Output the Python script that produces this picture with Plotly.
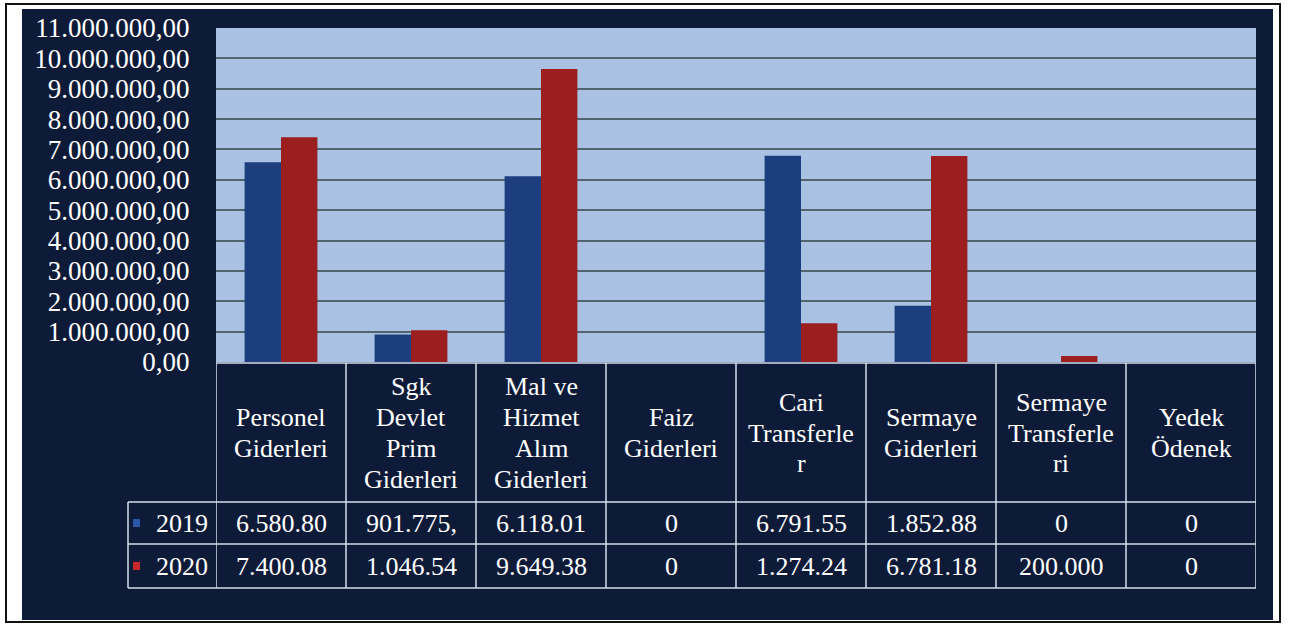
import plotly.graph_objects as go

# kategoriler (tablo başlığında satır satır)
header_lines = [
    ["Personel", "Giderleri"],
    ["Sgk", "Devlet", "Prim", "Giderleri"],
    ["Mal ve", "Hizmet", "Alım", "Giderleri"],
    ["Faiz", "Giderleri"],
    ["Cari", "Transferle", "r"],
    ["Sermaye", "Giderleri"],
    ["Sermaye", "Transferle", "ri"],
    ["Yedek", "Ödenek"],
]
categories = [" ".join(l) for l in header_lines]

years = ["2019", "2020"]
values_2019 = [6580800, 901775, 6118010, 0, 6791550, 1852880, 0, 0]
values_2020 = [7400080, 1046540, 9649380, 0, 1274240, 6781180, 200000, 0]

# tablodaki (kesik) yazılar
table_2019 = ["6.580.80", "901.775,", "6.118.01", "0", "6.791.55", "1.852.88", "0", "0"]
table_2020 = ["7.400.08", "1.046.54", "9.649.38", "0", "1.274.24", "6.781.18", "200.000", "0"]

tick_vals = [i * 1000000 for i in range(12)]
tick_text = ["0,00"] + ["{:,}".format(v).replace(",", ".") + ",00" for v in tick_vals[1:]]

W, H = 1298, 625
NAVY = "#0e1b38"
BLUE = "#1d3e7e"
RED = "#9c1e1e"
FONT = "Liberation Serif"
LINE = "#d6deea"


def px(x):
    return x / W


def py(y):
    return 1 - y / H


fig = go.Figure()
fig.add_trace(go.Bar(name="2019", x=categories, y=values_2019, marker=dict(color=BLUE, line=dict(width=0))))
fig.add_trace(go.Bar(name="2020", x=categories, y=values_2020, marker=dict(color=RED, line=dict(width=0))))

shapes = []
# beyaz kenarlar + siyah çerçeve
for x0, y0, x1, y1 in [(0, 0, W, 9), (0, 620, W, H), (0, 0, 22, H), (1273, 0, W, H)]:
    shapes.append(dict(type="rect", xref="paper", yref="paper", x0=px(x0), x1=px(x1), y0=py(y0), y1=py(y1),
                       fillcolor="white", line=dict(width=0), layer="below"))
shapes.append(dict(type="rect", xref="paper", yref="paper", x0=px(6), x1=px(1280), y0=py(4), y1=py(622),
                   line=dict(color="#111", width=2)))

# tablo çizgileri
for k in range(len(categories) + 1):
    shapes.append(dict(type="line", xref="x", yref="paper", x0=k - 0.5, x1=k - 0.5, y0=py(363), y1=py(588),
                       line=dict(color=LINE, width=1.5)))
shapes.append(dict(type="line", xref="paper", yref="paper", x0=px(216), x1=px(1256), y0=py(363), y1=py(363),
                   line=dict(color=LINE, width=1.5)))
for yy in [502, 544, 588]:
    shapes.append(dict(type="line", xref="paper", yref="paper", x0=px(128), x1=px(1256), y0=py(yy), y1=py(yy),
                       line=dict(color=LINE, width=1.5)))
shapes.append(dict(type="line", xref="paper", yref="paper", x0=px(128), x1=px(128), y0=py(502), y1=py(588),
                   line=dict(color=LINE, width=1.5)))

# lejant kareleri
for yy, col in [(523, "#2c56a8"), (566, "#c8282a")]:
    shapes.append(dict(type="rect", xref="paper", yref="paper", x0=px(133), x1=px(140), y0=py(yy - 4), y1=py(yy + 4),
                       fillcolor=col, line=dict(width=0)))

annotations = []
for cat, lines in zip(categories, header_lines):
    n = len(lines)
    for i, t in enumerate(lines):
        yy = 433 + (i - (n - 1) / 2) * 31
        annotations.append(dict(xref="x", yref="paper", x=cat, y=py(yy), text=t, showarrow=False,
                                font=dict(family=FONT, size=26, color="white"), yanchor="middle"))
for yy, row in [(523, table_2019), (566, table_2020)]:
    for cat, t in zip(categories, row):
        annotations.append(dict(xref="x", yref="paper", x=cat, y=py(yy), text=t, showarrow=False,
                                font=dict(family=FONT, size=26, color="white"), yanchor="middle"))
for yy, yr in zip([523, 566], years):
    annotations.append(dict(xref="paper", yref="paper", x=px(210), y=py(yy), text=yr, showarrow=False,
                            xanchor="right", yanchor="middle", font=dict(family=FONT, size=26, color="white")))

fig.update_layout(
    width=W, height=H, autosize=False,
    margin=dict(l=0, r=0, t=0, b=0, pad=0),
    paper_bgcolor=NAVY,
    plot_bgcolor="#a9c2e4",
    barmode="group", bargap=0.44, bargroupgap=0,
    showlegend=False,
    shapes=shapes,
    annotations=annotations,
    xaxis=dict(domain=[px(216), px(1256)], showticklabels=False, showgrid=False, zeroline=False,
               automargin=False, range=[-0.5, len(categories) - 0.5]),
    yaxis=dict(domain=[py(362), py(28)], range=[0, 11000000], tickvals=tick_vals, ticktext=tick_text,
               showgrid=True, gridcolor="#52656f", gridwidth=1.5, zeroline=False, automargin=False,
               ticks="outside", ticklen=20, tickcolor=NAVY,
               tickfont=dict(family=FONT, size=27, color="white")),
)

fig.write_html("out.html", config={"displayModeBar": False},
               post_script="document.body.style.margin='0';")
